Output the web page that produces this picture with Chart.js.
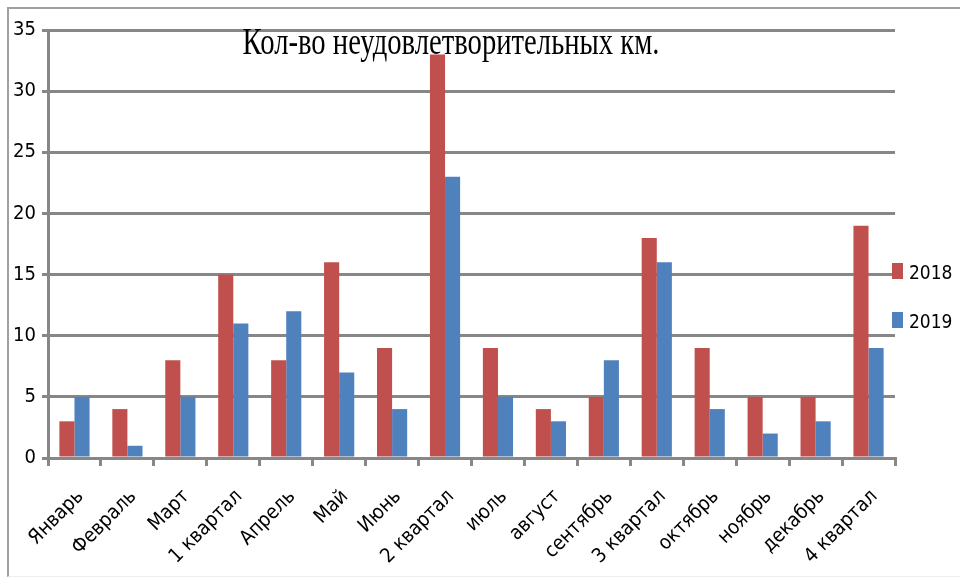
<!DOCTYPE html>
<html>
<head>
<meta charset="utf-8">
<script src="https://cdn.jsdelivr.net/npm/chart.js@4.4.1/dist/chart.umd.min.js"></script>
<style>
  html, body { margin: 0; padding: 0; background: #fff; }
  #wrap { position: relative; width: 960px; height: 579px; overflow: hidden; }
  #frame {
    position: absolute; left: 7px; top: 7px; right: -5px; bottom: 2px;
    border-top: 2px solid #a0a0a0; border-left: 2px solid #a0a0a0; border-bottom: 1px solid #eeeeee;
  }
  canvas { position: absolute; left: 0; top: 0; }
</style>
</head>
<body>
<div id="wrap">
  <div id="frame"></div>
  <canvas id="myChart" width="960" height="579"></canvas>
</div>
<script>
const categories = ["Январь", "Февраль", "Март", "1 квартал", "Апрель", "Май", "Июнь", "2 квартал",
  "июль", "август", "сентябрь", "3 квартал", "октябрь", "ноябрь", "декабрь", "4 квартал"];
const values2018 = [3, 4, 8, 15, 8, 16, 9, 33, 9, 4, 5, 18, 9, 5, 5, 19];
const values2019 = [5, 1, 5, 11, 12, 7, 4, 23, 5, 3, 8, 16, 4, 2, 3, 9];
const seriesNames = ["2018", "2019"];
const yMin = 0;
const yMax = 35;
const yStep = 5;
const chartTitle = "Кол-во неудовлетворительных км.";

const gridColor = "#878787";
const sansFont = "'Liberation Sans Narrow', 'DejaVu Sans Condensed', 'Liberation Sans', sans-serif";

// title sits inside the plot, in a squeezed serif face
const titlePlugin = {
  id: "innerTitle",
  afterDraw(chart) {
    const { ctx, chartArea } = chart;
    ctx.save();
    ctx.font = "37px 'Liberation Serif', 'DejaVu Serif', serif";
    ctx.fillStyle = "#000";
    ctx.textAlign = "center";
    ctx.textBaseline = "alphabetic";
    const w = ctx.measureText(chartTitle).width;
    const sx = 417 / w;
    ctx.translate(chartArea.left + 403, chartArea.top + 24);
    ctx.scale(sx, 1);
    ctx.fillText(chartTitle, 0, 0);
    ctx.restore();
  },
};

// legend on the right, drawn from the datasets
const sideLegend = {
  id: "sideLegend",
  afterDraw(chart) {
    const { ctx, chartArea } = chart;
    ctx.save();
    ctx.font = "19px " + sansFont;
    ctx.textBaseline = "alphabetic";
    chart.data.datasets.forEach((ds, i) => {
      const x = chartArea.right - 3;
      const y = 263 + i * 49;
      ctx.fillStyle = ds.backgroundColor;
      ctx.fillRect(x, y, 11, 16);
      ctx.fillStyle = "#000";
      ctx.fillText(ds.label, x + 17, y + 16);
    });
    ctx.restore();
  },
};

const chart = new Chart(document.getElementById("myChart"), {
  type: "bar",
  data: {
    labels: categories,
    datasets: [
      {
        label: seriesNames[0],
        backgroundColor: "#C0504D",
        data: values2018,
        categoryPercentage: 0.57,
        barPercentage: 1.0,
      },
      {
        label: seriesNames[1],
        backgroundColor: "#4F81BD",
        data: values2019,
        categoryPercentage: 0.57,
        barPercentage: 1.0,
      },
    ],
  },
  options: {
    responsive: false,
    animation: false,
    layout: { padding: { left: 0, top: 30, right: 65, bottom: 0 } },
    plugins: {
      legend: { display: false },
      title: { display: false },
      tooltip: { enabled: false },
    },
    scales: {
      x: {
        afterFit(scale) { scale.height = 121; },
        grid: {
          offset: true,
          drawOnChartArea: false,
          drawTicks: true,
          tickLength: 8,
          color: gridColor,
          lineWidth: 3,
        },
        border: { display: true, color: gridColor, width: 3 },
        ticks: {
          autoSkip: false,
          minRotation: 45,
          maxRotation: 45,
          padding: 19,
          labelOffset: 6,
          color: "#000",
          font: { family: sansFont, size: 20 },
        },
      },
      y: {
        min: yMin,
        max: yMax,
        afterFit(scale) { scale.width = 48; },
        grid: {
          color: gridColor,
          lineWidth: 3,
          tickLength: 6,
        },
        border: { display: true, color: gridColor, width: 3 },
        ticks: {
          stepSize: yStep,
          padding: 6,
          color: "#000",
          font: { family: sansFont, size: 20 },
        },
      },
    },
  },
  plugins: [titlePlugin, sideLegend],
});
</script>
</body>
</html>
